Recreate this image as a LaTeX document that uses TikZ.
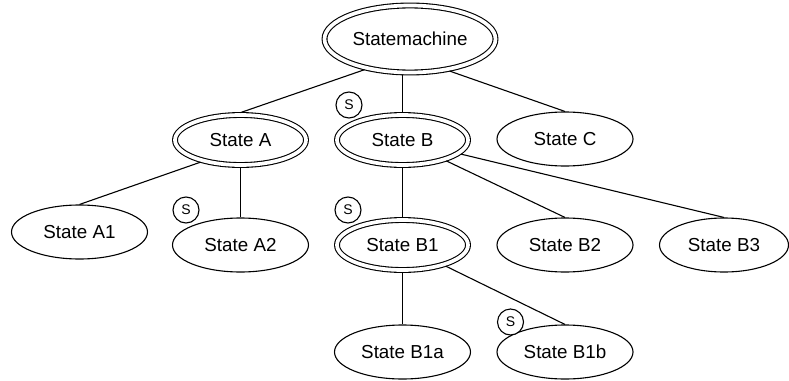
\documentclass[tikz,border=0pt]{standalone}
\usepackage{fontspec}
\setmainfont{Liberation Sans}
\usetikzlibrary{shapes.geometric}
\begin{document}
\begin{tikzpicture}[x=1pt,y=-1pt,
  line width=1.1pt,
  every node/.style={font=\fontsize{18.8}{22}\selectfont},
  state/.style={ellipse,draw,fill=white,inner sep=0pt,minimum width=136pt,minimum height=54pt},
  super/.style={ellipse,draw,fill=white,inner sep=0pt,double,double distance=3.7pt,outer sep=2.4pt,
    minimum width=131pt,minimum height=50pt},
  start/.style={circle,draw,fill=white,inner sep=0pt,minimum size=26pt,
    font=\fontsize{14}{16}\selectfont}]
\useasboundingbox (0,0) rectangle (789,380);

% nodes of the hierarchy
\node[super,minimum width=171pt,minimum height=67pt] (sm) at (410,39) {Statemachine};
\node[super] (a) at (240.5,140) {State A};
\node[super] (b) at (402.5,140) {State B};
\node[state] (c) at (565,139) {State C};
\node[state] (a1) at (79.5,232) {State A1};
\node[state] (a2) at (240.5,245) {State A2};
\node[super] (b1) at (402.5,245) {State B1};
\node[state] (b2) at (565,245) {State B2};
\node[state,minimum width=129pt] (b3) at (724,245) {State B3};
\node[state] (b1a) at (402.5,352) {State B1a};
\node[state] (b1b) at (565,352) {State B1b};

% parent-child connectors
\draw (sm.214) -- (a.north);
\draw (b.north |- sm.south) -- (b.north);
\draw (sm.321) -- (c.north);
\draw (a.209) -- (a1.north);
\draw (a) -- (a2.north);
\draw (b) -- (b1.north);
\draw (b) -- (b2.north);
\draw (b) -- (b3.north);
\draw (b1) -- (b1a.north);
\draw (b1) -- (b1b.north);

% start-state markers
\node[start] (sa2) at (186,210) {S};
\node[start] (sb) at (349,105) {S};
\node[start] (sb1) at (348,210) {S};
\node[start] (sb1b) at (510.5,322) {S};
\end{tikzpicture}
\end{document}
